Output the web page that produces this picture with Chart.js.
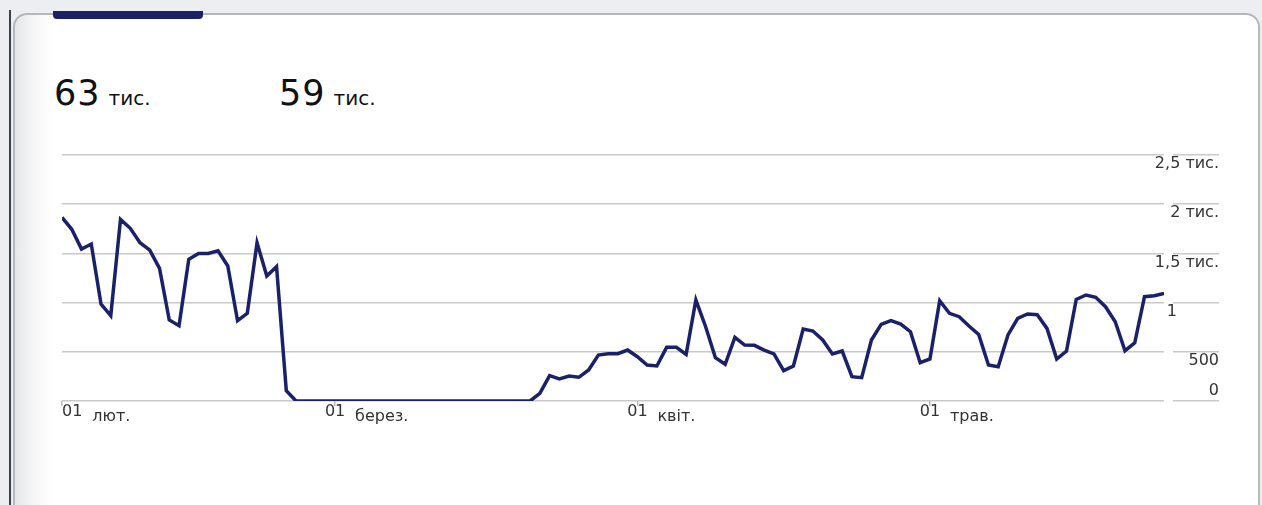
<!DOCTYPE html>
<html>
<head>
<meta charset="utf-8">
<script src="https://cdn.jsdelivr.net/npm/chart.js@4.4.1/dist/chart.umd.min.js"></script>
<style>
  html, body { margin: 0; padding: 0; }
  body { width: 1262px; height: 505px; overflow: hidden; background: #eceef1; position: relative; font-family: "DejaVu Sans", sans-serif; }
  .edge { position: absolute; left: 9px; top: 10px; width: 2px; height: 495px; background: #3a404a; }
  .card {
    position: absolute; left: 13px; top: 13px; width: 1243px; height: 520px;
    border: 2px solid #b4b7bc; border-radius: 14px;
    background: linear-gradient(to right, #e6e7e9 0px, #f8f8f9 22px, #ffffff 40px);
  }
  .tab { position: absolute; left: 53px; top: 11px; width: 150px; height: 8px; background: #1b2169; border-radius: 0 0 4px 4px; }
  .stat { position: absolute; top: 73px; color: #111; white-space: nowrap; }
  .stat .num { font-size: 35px; letter-spacing: 1px; }
  .stat .unit { font-size: 20px; margin-left: 8px; }
  #chart { position: absolute; left: 0; top: 0; }
</style>
</head>
<body>
<div class="edge"></div>
<div class="card"></div>
<div class="tab"></div>
<div class="stat" style="left:54px"><span class="num">63</span><span class="unit">тис.</span></div>
<div class="stat" style="left:279px"><span class="num">59</span><span class="unit">тис.</span></div>
<canvas id="chart" width="1262" height="505"></canvas>

<script>
// daily values from 01 лют. (day 0) to 25 трав. (day 113)
const values = [
  1866, 1745, 1544, 1595, 985, 867, 1846, 1755, 1608, 1534,
  1348, 823, 765, 1440, 1500, 1500, 1527, 1372, 816, 891,
  1608, 1270, 1365, 105, 0, 0, 0, 0, 0, 0,
  0, 0, 0, 0, 0, 0, 0, 0, 0, 0,
  0, 0, 0, 0, 0, 0, 0, 0, 0, 78,
  257, 224, 254, 241, 315, 467, 481, 481, 518, 450,
  366, 356, 545, 545, 474, 1026, 755, 440, 373, 647,
  569, 566, 518, 478, 308, 356, 731, 711, 620, 478,
  508, 247, 237, 620, 779, 816, 782, 704, 389, 427,
  1019, 891, 857, 762, 677, 366, 348, 671, 840, 884,
  877, 738, 427, 508, 1033, 1077, 1054, 958, 806, 511,
  592, 1060, 1070, 1094
];
const days = values.map((v, i) => i);

// first day of each month, as day index
const monthTicks = [0, 28, 59, 89];
const monthNames = ['лют.', 'берез.', 'квіт.', 'трав.'];

const yTicks = [0, 500, 1000, 1500, 2000, 2500];
const yTickLabels = ['0', '500', '1', '1,5 тис.', '2 тис.', '2,5 тис.'];

const labelFont = '16px "DejaVu Sans", sans-serif';

// draws the axis texts where the reference puts them
const axisLabels = {
  id: 'axisLabels',
  afterDraw(chart) {
    const ctx = chart.ctx;
    const x = chart.scales.x;
    const y = chart.scales.y;
    ctx.save();
    ctx.font = labelFont;
    ctx.fillStyle = '#333';
    ctx.textBaseline = 'middle';

    yTicks.forEach((v, i) => {
      const py = y.getPixelForValue(v) + (v === 0 ? -10 : 9);
      ctx.textAlign = 'right';
      const px = v === 1000 ? y.left + 13 : y.right;
      ctx.fillText(yTickLabels[i], px, py);
    });

    monthTicks.forEach((d, i) => {
      const tx = x.getPixelForValue(d);
      const w = ctx.measureText('01').width;
      const cx = Math.max(tx, x.left + w / 2);
      ctx.textAlign = 'center';
      ctx.fillText('01', cx, 412);
      ctx.textAlign = 'left';
      ctx.fillText(monthNames[i], cx + 20, 417);
    });
    ctx.restore();
  }
};

document.addEventListener('DOMContentLoaded', function() {
  new Chart(document.getElementById('chart'), {
    type: 'line',
    data: {
      labels: days,
      datasets: [{
        data: values.map((v, i) => ({ x: days[i], y: v })),
        borderColor: '#1b2169',
        borderWidth: 3.5,
        pointRadius: 0,
        tension: 0,
        fill: false
      }]
    },
    options: {
      responsive: false,
      animation: false,
      layout: { padding: { left: 62, top: 155, right: 43, bottom: 99 } },
      plugins: { legend: { display: false }, tooltip: { enabled: false } },
      scales: {
        x: {
          type: 'linear',
          min: 0,
          max: 113,
          afterBuildTicks: axis => { axis.ticks = monthTicks.map(v => ({ value: v })); },
          ticks: { display: false },
          grid: { drawOnChartArea: false, drawTicks: true, tickLength: 5, color: '#b8b8b8', lineWidth: 1.5 },
          border: { display: false }
        },
        y: {
          position: 'right',
          min: 0,
          max: 2500,
          afterBuildTicks: axis => { axis.ticks = yTicks.map(v => ({ value: v })); },
          ticks: { display: false },
          grid: {
            color: '#c9c9c9',
            lineWidth: 1.5,
            drawTicks: true,
            tickLength: 55,
            tickBorderDash: [0, 9, 50, 0]
          },
          border: { display: false }
        }
      }
    },
    plugins: [axisLabels]
  });
});
</script>
</body>
</html>
